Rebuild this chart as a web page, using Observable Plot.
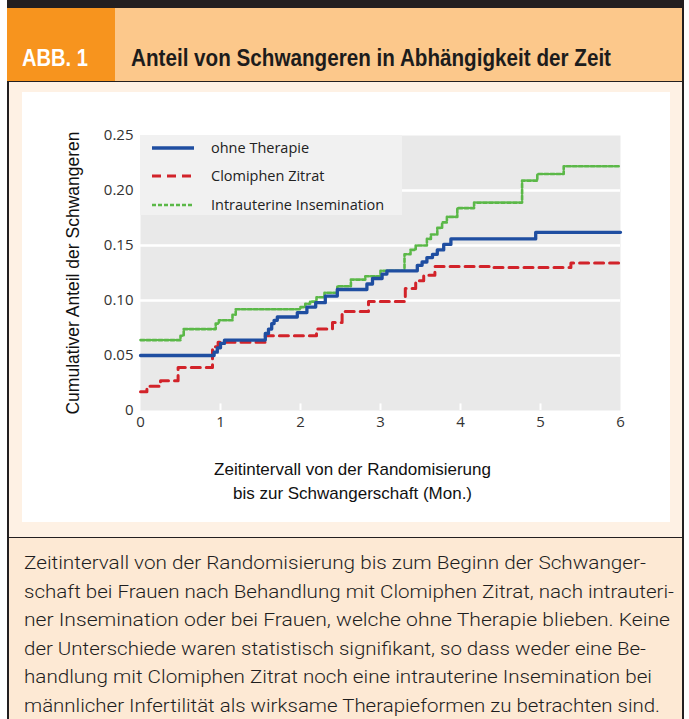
<!DOCTYPE html>
<html>
<head>
<meta charset="utf-8">
<script src="https://cdn.jsdelivr.net/npm/d3@7"></script>
<script src="https://cdn.jsdelivr.net/npm/@observablehq/plot@0.6"></script>
<style>
  html, body { margin: 0; padding: 0; background: #ffffff; }
  body { width: 689px; height: 719px; position: relative; overflow: hidden; }
  .abs { position: absolute; }
  #topbar { left: 7px; top: 0; width: 677px; height: 8px; background: #231f20; }
  #header { left: 7px; top: 8px; width: 675px; height: 73px; background: #fcc88b;
            border-right: 2px solid #231f20; border-bottom: 1.5px solid #231f20; }
  #abb { left: 0; top: 0; width: 108px; height: 73px; background: #f7941e; }
  .hfont { font-family: "Liberation Sans", Arial, sans-serif; font-weight: bold;
           white-space: nowrap; transform-origin: 0 0; line-height: 24px; }
  #abbtxt { left: 15px; top: 38px; color: #ffffff; font-size: 23px; }
  #title { left: 124px; top: 38px; color: #1c1c1c; font-size: 23px; }
  #panel { left: 7px; top: 82px; width: 673px; height: 455px; background: #fef1e4;
           border-left: 2px solid #231f20; border-right: 2px solid #231f20; }
  #white { left: 22px; top: 92px; width: 648px; height: 430px; background: #ffffff; }
  #caption { left: 7px; top: 537px; width: 673px; height: 182px; background: #fde9d4;
             border-left: 2px solid #231f20; border-right: 2px solid #231f20; border-top: 1.5px solid #231f20; }
  .cline { position: absolute; left: 15px; white-space: nowrap; color: #1e1e1e;
           font-family: "Roboto", "Liberation Sans", sans-serif; font-weight: 300;
           font-size: 19px; line-height: 17px; transform-origin: 0 0; }
  #legend { left: 140px; top: 135px; width: 262px; height: 80px; background: #f1f1f1; }
  .lg { position: absolute; left: 71px; font-family: "Open Sans", sans-serif; font-size: 14.5px; color: #222; line-height: 18px; }
</style>
</head>
<body>
<div id="topbar" class="abs"></div>
<div id="header" class="abs">
  <div id="abb" class="abs"></div>
  <div id="abbtxt" class="abs hfont">ABB. 1</div>
  <div id="title" class="abs hfont">Anteil von Schwangeren in Abhängigkeit der Zeit</div>
</div>
<div id="panel" class="abs"></div>
<div id="white" class="abs"></div>
<div id="chart" class="abs" style="left:22px; top:92px;"></div>
<div id="legend" class="abs"></div>
<div id="caption" class="abs"></div>
<script>
// ---- data ----
const seriesNames = ["ohne Therapie", "Clomiphen Zitrat", "Intrauterine Insemination"];

const monthsOhne = [0, 0.92, 0.96, 1.0, 1.05, 1.56, 1.6, 1.64, 1.67, 1.71, 1.96, 2.08, 2.19, 2.31, 2.46, 2.83, 2.9, 3.02, 3.08, 3.46, 3.52, 3.58, 3.65, 3.71, 3.79, 3.88, 4.94, 6];
const anteilOhne = [0.050, 0.053, 0.057, 0.061, 0.064, 0.070, 0.074, 0.079, 0.082, 0.085, 0.089, 0.094, 0.098, 0.104, 0.110, 0.115, 0.120, 0.124, 0.127, 0.132, 0.135, 0.139, 0.142, 0.146, 0.151, 0.156, 0.162, 0.162];

const monthsClomiphen = [0, 0.08, 0.25, 0.47, 0.9, 0.97, 1.56, 2.2, 2.4, 2.52, 2.85, 3.31, 3.44, 3.54, 3.68, 4.4, 5.38, 6];
const anteilClomiphen = [0.017, 0.022, 0.027, 0.039, 0.058, 0.062, 0.068, 0.074, 0.080, 0.090, 0.099, 0.111, 0.118, 0.123, 0.131, 0.130, 0.134, 0.134];

const monthsIUI = [0, 0.5, 0.54, 0.94, 0.98, 1.15, 1.19, 2.0, 2.06, 2.12, 2.2, 2.3, 2.46, 2.63, 2.81, 3.0, 3.3, 3.375, 3.44, 3.58, 3.63, 3.71, 3.77, 3.83, 3.96, 4.17, 4.77, 4.96, 5.29, 6];
const anteilIUI = [0.064, 0.068, 0.074, 0.079, 0.082, 0.087, 0.092, 0.094, 0.097, 0.099, 0.103, 0.107, 0.113, 0.119, 0.122, 0.127, 0.142, 0.146, 0.150, 0.156, 0.160, 0.166, 0.171, 0.176, 0.184, 0.189, 0.209, 0.215, 0.222, 0.222];

const xTicks = [0, 1, 2, 3, 4, 5, 6];
const yTicks = [0, 0.05, 0.10, 0.15, 0.20, 0.25];
const yLabel = "Cumulativer Anteil der Schwangeren";
const xLabel = "Zeitintervall von der Randomisierung\nbis zur Schwangerschaft (Mon.)";
const captionLines = [
  "Zeitintervall von der Randomisierung bis zum Beginn der Schwanger-",
  "schaft bei Frauen nach Behandlung mit Clomiphen Zitrat, nach intrauteri-",
  "ner Insemination oder bei Frauen, welche ohne Therapie blieben. Keine",
  "der Unterschiede waren statistisch signifikant, so dass weder eine Be-",
  "handlung mit Clomiphen Zitrat noch eine intrauterine Insemination bei",
  "männlicher Infertilität als wirksame Therapieformen zu betrachten sind."
];

// ---- styles ----
const colors = ["#1f4ea1", "#d2232a", "#5bb848"];
const widths = [3.3, 3, 2.6];
const dashes = [null, "9,6", "4,2"];

const toRows = (ts, vs) => ts.map((t, i) => ({t, v: vs[i]}));
const rows = [toRows(monthsOhne, anteilOhne), toRows(monthsClomiphen, anteilClomiphen), toRows(monthsIUI, anteilIUI)];

const lineMarks = [2, 1, 0].map(i => Plot.line(rows[i], {
  x: "t", y: "v", curve: "step-after",
  stroke: colors[i], strokeWidth: widths[i], strokeDasharray: dashes[i] || undefined
}));

const chart = Plot.plot({
  width: 648, height: 430,
  marginLeft: 118, marginRight: 50, marginTop: 43, marginBottom: 112,
  style: {fontFamily: "'Open Sans', sans-serif", fontSize: "15px", color: "#333", background: "transparent"},
  x: {domain: [0, 6]},
  y: {domain: [0, 0.25]},
  marks: [
    Plot.frame({fill: "#e9e9e9", stroke: null}),
    Plot.gridY(yTicks.slice(1, 5), {stroke: "#ffffff", strokeOpacity: 1, strokeWidth: 2.5}),
    Plot.ruleX(xTicks.slice(1, 6), {y1: 0, y2: 0.006, stroke: "#ffffff", strokeWidth: 2}),
    Plot.axisY(yTicks, {tickSize: 0, tickPadding: 7, label: null,
      tickFormat: d => d === 0 ? "0" : d.toFixed(2), fill: "#333"}),
    Plot.axisX(xTicks, {tickSize: 0, tickPadding: 6, label: null, fill: "#333"}),
    Plot.text([yLabel], {frameAnchor: "left", rotate: -90, dx: -67, text: d => d, textAnchor: "middle",
      fontFamily: "'Liberation Sans', Arial, sans-serif", fontSize: 17.5, fill: "#111"}),
    Plot.text([xLabel], {frameAnchor: "bottom", dx: -28, dy: 69, text: d => d, lineAnchor: "middle",
      lineHeight: 1.41, fontFamily: "'Liberation Sans', Arial, sans-serif", fontSize: 17, fill: "#111"}),
    ...lineMarks
  ]
});
document.getElementById("chart").appendChild(chart);

// ---- legend (HTML overlay) ----
const legend = document.getElementById("legend");
const lgY = [13, 41, 70];
seriesNames.forEach((name, i) => {
  const svgNS = "http://www.w3.org/2000/svg";
  const s = document.createElementNS(svgNS, "svg");
  s.setAttribute("width", 46); s.setAttribute("height", 8);
  s.style.position = "absolute"; s.style.left = "11px"; s.style.top = (lgY[i] - 4) + "px";
  const l = document.createElementNS(svgNS, "line");
  l.setAttribute("x1", 1); l.setAttribute("x2", 43); l.setAttribute("y1", 4); l.setAttribute("y2", 4);
  l.setAttribute("stroke", colors[i]); l.setAttribute("stroke-width", widths[i]);
  if (dashes[i]) l.setAttribute("stroke-dasharray", dashes[i]);
  s.appendChild(l);
  legend.appendChild(s);
  const t = document.createElement("div");
  t.className = "lg"; t.textContent = name; t.style.top = (lgY[i] - 9) + "px";
  legend.appendChild(t);
});

// ---- helper: condense a text element horizontally to a target width ----
function fitWidth(el, target) {
  const w = el.getBoundingClientRect().width;
  el.style.transform = "scaleX(" + (target / w) + ")";
}

// ---- header ----
fitWidth(document.getElementById("abbtxt"), 66);
fitWidth(document.getElementById("title"), 480);

// ---- caption ----
const cap = document.getElementById("caption");
const capWidths = [622, 650, 646, 622, 628, 636];
captionLines.forEach((line, i) => {
  const d = document.createElement("div");
  d.className = "cline"; d.textContent = line; d.style.top = (16 + i * 28.6) + "px";
  cap.appendChild(d);
  fitWidth(d, capWidths[i]);
});
</script>
</body>
</html>
